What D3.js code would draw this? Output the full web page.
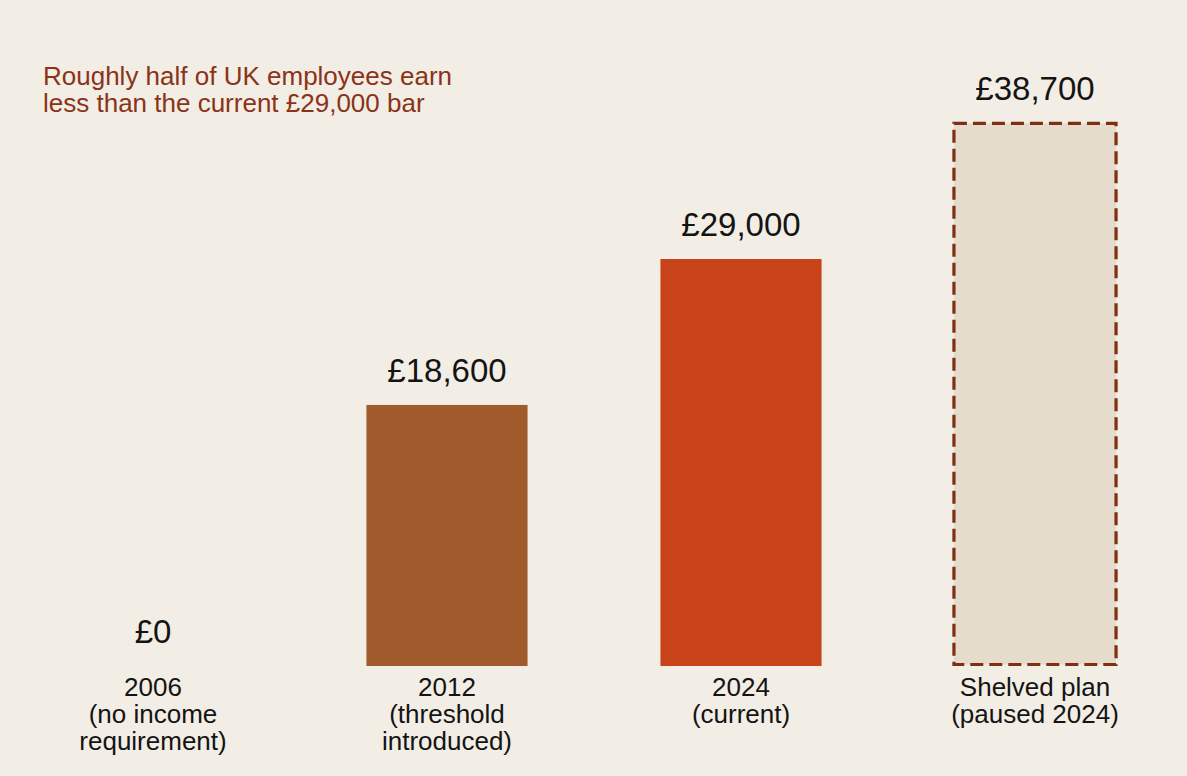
<!DOCTYPE html>
<html>
<head>
<meta charset="utf-8">
<script src="https://cdn.jsdelivr.net/npm/d3@7"></script>
<style>
  html, body { margin: 0; padding: 0; background: #f2ede5; }
  svg { display: block; font-family: "Liberation Sans", Arial, sans-serif; }
</style>
</head>
<body>
<svg id="chart"></svg>
<script>
// Data
const categories = ['2006', '2012', '2024', 'Shelved plan'];
const categoryLines = [
    ['2006', '(no income', 'requirement)'],
    ['2012', '(threshold', 'introduced)'],
    ['2024', '(current)'],
    ['Shelved plan', '(paused 2024)']
];
const values = [0, 18600, 29000, 38700];
const valueLabels = ['£0', '£18,600', '£29,000', '£38,700'];
const barColors = ['#a05a2c', '#a05a2c', '#c8431a', '#e5dccb'];
const annotation = ['Roughly half of UK employees earn', 'less than the current £29,000 bar'];

const width = 1187, height = 776;
const baseline = 666;

const svg = d3.select('#chart')
    .attr('width', width)
    .attr('height', height);

svg.append('rect')
    .attr('width', width)
    .attr('height', height)
    .attr('fill', '#f2ede5');

// Scales
const x = d3.scaleBand()
    .domain(categories)
    .range([6, 1182])
    .paddingInner(0.452)
    .paddingOuter(0.226);

const y = d3.scaleLinear()
    .domain([0, 29000])
    .range([baseline, 259]);

// Bars
const bars = svg.append('g')
    .selectAll('rect')
    .data(categories)
    .join('rect')
    .attr('x', d => x(d))
    .attr('width', x.bandwidth())
    .attr('y', (d, i) => y(values[i]))
    .attr('height', (d, i) => baseline - y(values[i]))
    .attr('fill', (d, i) => barColors[i]);

// Shelved plan gets a dashed outline
bars.filter((d, i) => i === 3)
    .attr('x', d => x(d) - 0.5)
    .attr('width', x.bandwidth() + 1)
    .attr('y', y(values[3]) + 0.5)
    .attr('height', baseline - y(values[3]) - 2)
    .attr('stroke', '#7e2f14')
    .attr('stroke-width', 3.2)
    .attr('stroke-dasharray', '13,6');

// Value labels
svg.append('g')
    .selectAll('text')
    .data(categories)
    .join('text')
    .attr('x', d => x(d) + x.bandwidth() / 2)
    .attr('y', (d, i) => y(values[i]) - 23)
    .attr('text-anchor', 'middle')
    .attr('font-size', 33)
    .attr('fill', '#141414')
    .text((d, i) => valueLabels[i]);

// Category labels
const catLabels = svg.append('g')
    .selectAll('text')
    .data(categories)
    .join('text')
    .attr('x', d => x(d) + x.bandwidth() / 2)
    .attr('y', 696)
    .attr('text-anchor', 'middle')
    .attr('font-size', 26)
    .attr('fill', '#141414');

catLabels.selectAll('tspan')
    .data((d, i) => categoryLines[i])
    .join('tspan')
    .attr('x', function() { return d3.select(this.parentNode).attr('x'); })
    .attr('dy', (d, i) => i === 0 ? 0 : 27)
    .text(d => d);

// Annotation
svg.append('text')
    .attr('x', 43)
    .attr('y', 85)
    .attr('font-size', 26)
    .attr('fill', '#8a3318')
    .selectAll('tspan')
    .data(annotation)
    .join('tspan')
    .attr('x', 43)
    .attr('dy', (d, i) => i === 0 ? 0 : 27)
    .text(d => d);
</script>
</body>
</html>
